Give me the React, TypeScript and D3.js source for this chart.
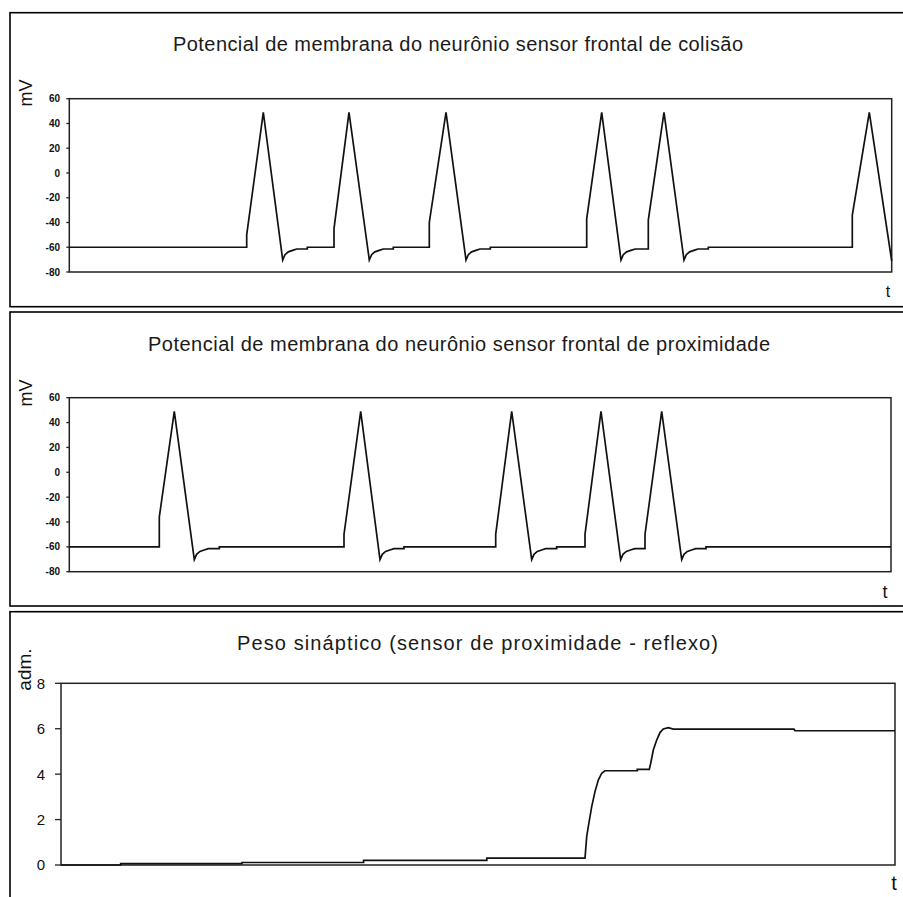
import React from "react";
import * as d3 from "d3";

// ---- Data (t in arbitrary time units) ----
const collisionTrace: [number, number][] = [
  [0, -60], [177.4, -60], [177.4, -50], [194, 49], [213.4, -70.3], [215.7, -66], [219, -63.7], [224, -62.3], [227.4, -61.4], [238, -61.4], [238, -60],
  [264.7, -60], [264.7, -45], [279.7, 49], [300, -70.3], [302.3, -66], [305.6, -63.7], [310.6, -62.3], [314, -61.4], [324, -61.4], [324, -60],
  [360, -60], [360, -40], [376.7, 49], [396.7, -70.3], [399, -66], [402.3, -63.7], [407.3, -62.3], [410.7, -61.4], [421, -61.4], [421, -60],
  [517.4, -60], [517.4, -37], [532.4, 49], [551.7, -70.3], [554, -66], [557.3, -63.7], [562.3, -62.3], [566, -61.4],
  [579, -61.4], [579, -38], [594.7, 49], [614.7, -70.3], [617, -66], [620.3, -63.7], [625.3, -62.3], [628.7, -61.4], [639, -61.4], [639, -60],
  [783, -60], [783, -34], [800, 49], [822.4, -71],
];

const proximityTrace: [number, number][] = [
  [0, -60], [90, -60], [90, -36], [105, 49], [125, -70.3], [127.3, -66], [130.6, -63.7], [135.6, -62.3], [139, -61.4], [150, -61.4], [150, -60],
  [274.7, -60], [274.7, -50], [291.4, 49], [310.7, -70.3], [313, -66], [316.3, -63.7], [321.3, -62.3], [324.7, -61.4], [334.7, -61.4], [334.7, -60],
  [426.4, -60], [426.4, -50], [442.4, 49], [462.4, -70.3], [464.7, -66], [468, -63.7], [473, -62.3], [476.4, -61.4], [487.4, -61.4], [487.4, -60],
  [515.7, -60], [515.7, -50], [531.7, 49], [551.4, -70.3], [553.7, -66], [557, -63.7], [562, -62.3], [565.4, -61.4],
  [575.7, -61.4], [575.7, -50], [592.4, 49], [612.4, -70.3], [614.7, -66], [618, -63.7], [623, -62.3], [626.4, -61.4], [636.7, -61.4], [636.7, -60],
  [821.7, -60],
];

const weightTrace: [number, number][] = [
  [0, 0], [59.7, 0], [59.7, 0.06], [181, 0.06], [181, 0.11], [302.6, 0.11], [302.6, 0.2], [425.8, 0.2], [425.8, 0.3], [524, 0.3],
  [525.7, 1.25], [527.3, 1.69], [530.7, 2.57], [534, 3.23], [537.3, 3.74], [540.7, 4.04], [544, 4.15],
  [576.3, 4.15], [576.3, 4.21], [588.3, 4.21], [589.7, 4.48], [592.3, 5.06], [595.7, 5.5], [599, 5.83], [602.3, 5.99], [607.3, 6.05],
  [612.3, 5.98], [733, 5.98], [734, 5.91], [834, 5.91],
];

const mvTicks = [-80, -60, -40, -20, 0, 20, 40, 60];
const weightTicks = [0, 2, 4, 6, 8];

const titles = [
  "Potencial de membrana do neurônio sensor frontal de colisão",
  "Potencial de membrana do neurônio sensor frontal de proximidade",
  "Peso sináptico (sensor de proximidade - reflexo)",
];
const yLabels = ["mV", "mV", "adm."];

const FONT = "'Liberation Sans', Arial, sans-serif";

type PanelProps = {
  top: number;
  bottom: number;
  plot: { x0: number; x1: number; y0: number; y1: number };
  tDomain: [number, number];
  vDomain: [number, number];
  data: [number, number][];
  ticks: number[];
  tickLen: number;
  tickFont: number;
  tickBold: boolean;
  labelRight: number;
  title: string;
  titleX: number;
  titleLen: number;
  titleY: number;
  yLabel: string;
  yLabelX: number;
  yLabelY: number;
  yLabelSize: number;
  tX: number;
  tY: number;
  tSize: number;
};

function Panel(p: PanelProps) {
  const x = d3.scaleLinear().domain(p.tDomain).range([p.plot.x0, p.plot.x1]);
  const y = d3.scaleLinear().domain(p.vDomain).range([p.plot.y1, p.plot.y0]);
  const line = d3.line<[number, number]>().x((d) => x(d[0])).y((d) => y(d[1]));
  return (
    <g>
      <rect x={10} y={p.top} width={920} height={p.bottom - p.top} fill="white" stroke="#000" strokeWidth={1.6} />
      <text x={p.titleX} y={p.titleY} fontFamily={FONT} fontSize={20} textLength={p.titleLen} lengthAdjust="spacing" fill="#1a1a1a">
        {p.title}
      </text>
      <text
        transform={`translate(${p.yLabelX},${p.yLabelY}) rotate(-90)`}
        textAnchor="middle"
        fontFamily={FONT}
        fontSize={p.yLabelSize}
        fill="#111"
      >
        {p.yLabel}
      </text>
      <rect x={p.plot.x0} y={p.plot.y0} width={p.plot.x1 - p.plot.x0} height={p.plot.y1 - p.plot.y0} fill="none" stroke="#222" strokeWidth={1.5} />
      {p.ticks.map((t) => (
        <g key={t}>
          <line x1={p.plot.x0 - p.tickLen} x2={p.plot.x0} y1={y(t)} y2={y(t)} stroke="#222" strokeWidth={1.3} />
          <text
            x={p.labelRight}
            y={y(t)}
            dy="0.36em"
            textAnchor="end"
            fontFamily={FONT}
            fontSize={p.tickFont}
            fontWeight={p.tickBold ? "bold" : "normal"}
            fill="#111"
          >
            {t}
          </text>
        </g>
      ))}
      <path d={line(p.data) || ""} fill="none" stroke="#111" strokeWidth={1.7} strokeLinejoin="miter" />
      <text x={p.tX} y={p.tY} textAnchor="middle" fontFamily={FONT} fontSize={p.tSize} fill="#111">
        t
      </text>
    </g>
  );
}

export default function App() {
  return (
    <svg width={903} height={897} style={{ position: "absolute", left: 0, top: 0, background: "white" }}>
      <Panel
        top={12.7}
        bottom={306.7}
        plot={{ x0: 69.3, x1: 891.7, y0: 98.7, y1: 272 }}
        tDomain={[0, 822.4]}
        vDomain={[-80, 60]}
        data={collisionTrace}
        ticks={mvTicks}
        tickLen={3}
        tickFont={10}
        tickBold={true}
        labelRight={60}
        title={titles[0]}
        titleX={173}
        titleLen={570}
        titleY={50.5}
        yLabel={yLabels[0]}
        yLabelX={32}
        yLabelY={93}
        yLabelSize={18}
        tX={888}
        tY={297}
        tSize={16}
      />
      <Panel
        top={312}
        bottom={606}
        plot={{ x0: 69.3, x1: 891, y0: 397.7, y1: 571.7 }}
        tDomain={[0, 821.7]}
        vDomain={[-80, 60]}
        data={proximityTrace}
        ticks={mvTicks}
        tickLen={3}
        tickFont={10}
        tickBold={true}
        labelRight={60}
        title={titles[1]}
        titleX={148}
        titleLen={622}
        titleY={350.5}
        yLabel={yLabels[1]}
        yLabelX={32}
        yLabelY={393}
        yLabelSize={18}
        tX={885}
        tY={598}
        tSize={18}
      />
      <Panel
        top={611.7}
        bottom={930}
        plot={{ x0: 61, x1: 895, y0: 683.3, y1: 865 }}
        tDomain={[0, 834]}
        vDomain={[0, 8]}
        data={weightTrace}
        ticks={weightTicks}
        tickLen={6}
        tickFont={15}
        tickBold={false}
        labelRight={45}
        title={titles[2]}
        titleX={237}
        titleLen={481}
        titleY={650}
        yLabel={yLabels[2]}
        yLabelX={31}
        yLabelY={669.5}
        yLabelSize={19}
        tX={894}
        tY={890}
        tSize={20}
      />
    </svg>
  );
}
